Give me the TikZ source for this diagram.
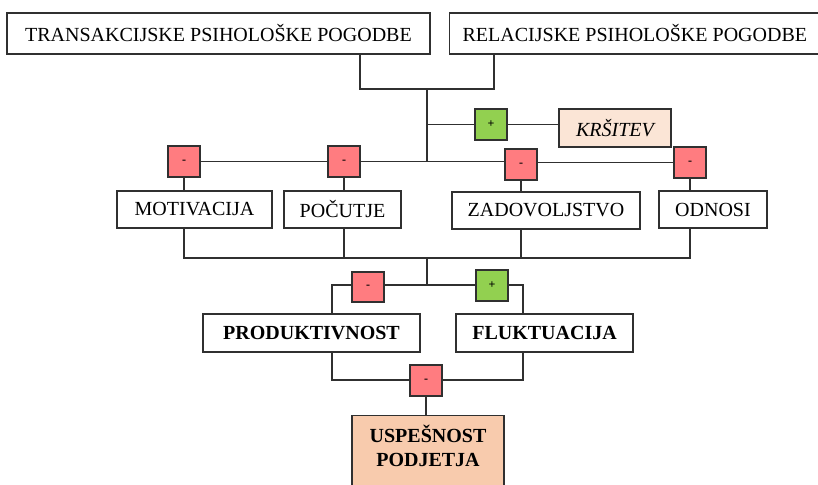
\documentclass[tikz,border=0pt]{standalone}
\usepackage{fontspec}
\setmainfont{Liberation Serif}
\usepackage{tikz}
\usetikzlibrary{positioning, calc}
\definecolor{Minus} {HTML}{FF7C80}
\definecolor{Plus}  {HTML}{92D050}
\definecolor{Peach} {HTML}{FBE5D6}
\definecolor{Salmon}{HTML}{F8CBAD}
\definecolor{Ink}   {HTML}{303030}
\tikzset{
  blk/.style={draw=Ink, line width=1.3pt, fill=white, inner sep=0pt, align=center,
              font=\fontsize{20}{24}\selectfont, minimum height=38pt},
  sgn/.style={draw=Ink, line width=1.3pt, inner sep=0pt, minimum width=32pt,
              minimum height=31pt, font=\fontsize{12}{14}\selectfont\bfseries},
  ln/.style={Ink, line width=1.3pt}
}
\begin{document}
\begin{tikzpicture}[x=1pt, y=-1pt]
  \useasboundingbox (0,0) rectangle (818,484);
  \clip (0,0) rectangle (818,484);
  % top row
  \node[blk, minimum width=423pt, minimum height=41pt] (trans) at (218.5,33.5) {TRANSAKCIJSKE PSIHOLOŠKE POGODBE};
  \node[blk, anchor=west, minimum height=41pt, inner xsep=13pt] (rel) at (449,33.5) {RELACIJSKE PSIHOLOŠKE POGODBE};
  \node[sgn, fill=Plus] (pk) at (491,124.5) {+};
  \node[blk, fill=Peach, minimum width=112pt, font=\fontsize{20}{24}\selectfont\itshape] (kr) at (615,128) {KRŠITEV};
  % middle row
  \node[sgn, fill=Minus] (m1) at (184,161.5) {-};
  \node[sgn, fill=Minus] (m2) at (344,161.5) {-};
  \node[sgn, fill=Minus] (m3) at (521,164.5) {-};
  \node[sgn, fill=Minus] (m4) at (690,162.5) {-};
  \node[blk, minimum width=155pt, minimum height=37pt] (mot) at (194.5,209.5) {MOTIVACIJA};
  \node[blk, minimum width=117pt, minimum height=37pt] (poc) at (342.5,209.5) {POČUTJE};
  \node[blk, minimum width=188pt, minimum height=37pt] (zad) at (546,210.5) {ZADOVOLJSTVO};
  \node[blk, minimum width=108pt, minimum height=37pt] (odn) at (713,209.5) {ODNOSI};
  % bottom part
  \node[sgn, fill=Minus, minimum height=30pt] (p1) at (368,287) {-};
  \node[sgn, fill=Plus] (p2) at (492,285.5) {+};
  \node[blk, minimum width=217pt, font=\fontsize{20}{24}\selectfont\bfseries] (prod) at (311.5,333) {PRODUKTIVNOST};
  \node[blk, minimum width=177pt, font=\fontsize{20}{24}\selectfont\bfseries] (fluk) at (544.5,333) {FLUKTUACIJA};
  \node[sgn, fill=Minus] (p3) at (426,380.5) {-};
  \node[blk, fill=Salmon, anchor=north, minimum width=152pt, inner ysep=9pt, text depth=40pt,
        font=\fontsize{20}{24}\selectfont\bfseries] (usp) at (428,415) {USPEŠNOST\\PODJETJA};
  % junctions
  \coordinate (tl) at (360,89); \coordinate (tr) at (494,89); \coordinate (top) at (427,89);
  \coordinate (mid) at (427,162); \coordinate (low) at (427,258); \coordinate (fork) at (427,285);
  \coordinate (pl) at (332,285); \coordinate (pr) at (523,285);
  \coordinate (bl) at (332,380); \coordinate (br) at (523,380);
  % connectors
  \draw[ln] (trans.south -| tl) -- (tl) -- (tr) -- (rel.south -| tr);
  \draw[ln] (top) -- (mid); \draw[ln] (pk.west -| top) -- (pk.west); \draw[ln] (pk.east) -- (kr.west |- pk.east);
  \draw[ln] (m1.east) -- (m2.west); \draw[ln] (m2.east) -- (m3.west |- m2.east);
  \draw[ln] (m3.east |- m4.west) -- (m4.west);
  \draw[ln] (m1.south) -- (m1.south |- mot.north); \draw[ln] (m2.south) -- (m2.south |- poc.north);
  \draw[ln] (m3.south) -- (m3.south |- zad.north); \draw[ln] (m4.south) -- (m4.south |- odn.north);
  \draw[ln] (m1 |- mot.south) -- (m1 |- low) -- (m4 |- low) -- (m4 |- odn.south);
  \draw[ln] (m2 |- poc.south) -- (m2 |- low); \draw[ln] (m3 |- zad.south) -- (m3 |- low);
  \draw[ln] (low) -- (fork);
  \draw[ln] (fork) -- (p1.east |- fork); \draw[ln] (p1.west |- fork) -- (pl) -- (pl |- prod.north);
  \draw[ln] (fork) -- (p2.west |- fork); \draw[ln] (p2.east |- fork) -- (pr) -- (pr |- fluk.north);
  \draw[ln] (bl |- prod.south) -- (bl) -- (p3.west |- bl);
  \draw[ln] (br |- fluk.south) -- (br) -- (p3.east |- br);
  \draw[ln] (p3.south) -- (p3.south |- usp.north);
\end{tikzpicture}
\end{document}
